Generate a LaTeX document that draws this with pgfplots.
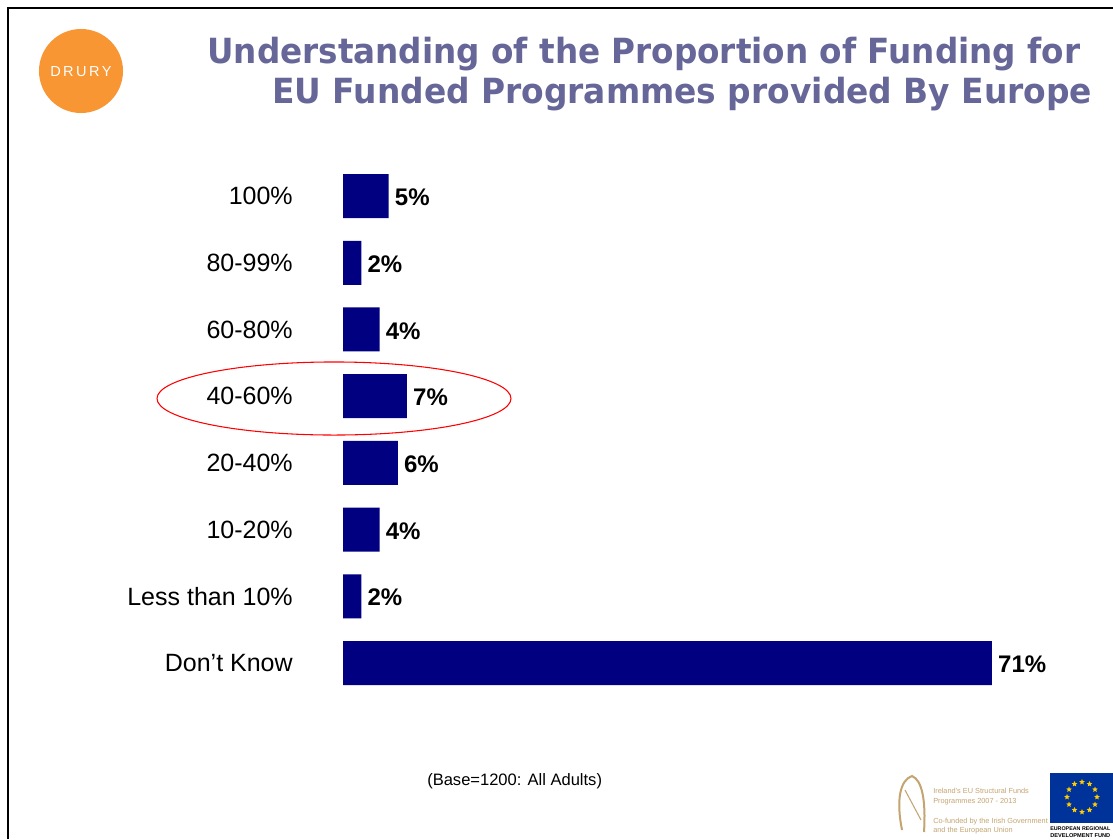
\documentclass[border=0pt]{standalone}
\usepackage{pgfplots}
\pgfplotsset{compat=1.18}
\usepackage{graphicx}
\usepackage{fontspec}
\setmainfont{Liberation Sans}
\newfontfamily\titlefont{DejaVu Sans}
\usetikzlibrary{shapes.geometric}

\definecolor{barblue}{RGB}{0,0,128}
\definecolor{titlecol}{RGB}{102,102,153}
\definecolor{druryorange}{RGB}{247,150,51}
\definecolor{harptan}{RGB}{196,164,112}
\definecolor{eublue}{RGB}{0,51,153}
\definecolor{euyellow}{RGB}{255,204,0}

\begin{document}
\begin{tikzpicture}[x=0.75pt,y=-0.75pt]
\clip (0,0) rectangle (1113,839);
\fill[white] (0,0) rectangle (1113,839);

% slide frame
\draw[line width=1.5pt] (8,839) -- (8,8) -- (1113,8);

% logo
\fill[druryorange] (81,71) circle [radius=31.5pt];
\node[white, inner sep=0pt] at (81,72) {\resizebox{46pt}{!}{\fontsize{8}{8}\selectfont D\,R\,U\,R\,Y}};

% title
\node[anchor=base west, inner sep=0pt, text=titlecol] at (207,63)
  {\resizebox{654.75pt}{\height}{\titlefont\bfseries\fontsize{26}{30}\selectfont Understanding of the Proportion of Funding for}};
\node[anchor=base west, inner sep=0pt, text=titlecol] at (272,103)
  {\resizebox{615pt}{\height}{\titlefont\bfseries\fontsize{26}{30}\selectfont EU Funded Programmes provided By Europe}};

\begin{axis}[
  at={(257.25pt,-522.3pt)}, anchor=south west,
  scale only axis, width=548.4pt, height=400.3pt,
  xbar, bar width=33pt, bar shift=0pt,
  xmin=0, xmax=80, ymin=-0.5, ymax=7.5,
  hide x axis,
  y axis line style={draw=none},
  major tick length=0pt,
  ytick={0,...,7},
  yticklabels={Don’t Know, Less than 10\%, 10-20\%, 20-40\%, 40-60\%, 60-80\%, 80-99\%, 100\%},
  yticklabel style={font=\fontsize{18.75}{20}\selectfont, anchor=east, inner sep=0pt, xshift=-37.5pt},
  point meta=x,
  nodes near coords={\pgfmathprintnumber[assume math mode=true]{\pgfplotspointmeta}\%},
  nodes near coords style={font=\fontsize{18}{20}\selectfont\bfseries, anchor=west, inner sep=0pt, xshift=4.5pt, yshift=-1pt},
  clip=false,
]
\addplot[draw=none, fill=barblue] coordinates {
  (71,0) (2,1) (4,2) (6,3) (7,4) (4,5) (2,6) (5,7)
};
\end{axis}

% highlight
\draw[red, line width=0.8pt] (334,398.5) ellipse [x radius=132.75pt, y radius=27.4pt];

% base note
\node[anchor=base west, inner sep=0pt] at (427,785) {\fontsize{12.4}{14}\selectfont (Base=1200: All Adults)};

% bottom right logos
\draw[harptan, line width=1.5pt] (902,830) .. controls (896,800) and (900,780) .. (912,776)
  .. controls (922,780) and (926,800) .. (924,832);
\draw[harptan, line width=0.8pt] (905,790) -- (921,820);
\node[anchor=base west, inner sep=0pt, text=harptan] at (933,793) {\fontsize{5.5}{6}\selectfont Ireland’s EU Structural Funds};
\node[anchor=base west, inner sep=0pt, text=harptan] at (933,803) {\fontsize{5.5}{6}\selectfont Programmes 2007 - 2013};
\node[anchor=base west, inner sep=0pt, text=harptan] at (933,823) {\fontsize{5.5}{6}\selectfont Co-funded by the Irish Government};
\node[anchor=base west, inner sep=0pt, text=harptan] at (933,832) {\fontsize{5.5}{6}\selectfont and the European Union};

\fill[eublue] (1050,773) rectangle (1113,823);
\foreach \a in {0,30,...,330}
  \node[star, star points=5, star point ratio=2.25, fill=euyellow, inner sep=0pt, minimum size=4.5pt]
    at ({1082+15*cos(\a)},{797+15*sin(\a)}) {};
\node[anchor=base west, inner sep=0pt] at (1050,830) {\resizebox{45pt}{!}{\fontsize{5.5}{6}\selectfont\bfseries EUROPEAN REGIONAL}};
\node[anchor=base west, inner sep=0pt] at (1050,837) {\resizebox{45pt}{!}{\fontsize{5.5}{6}\selectfont\bfseries DEVELOPMENT FUND}};
\end{tikzpicture}
\end{document}
